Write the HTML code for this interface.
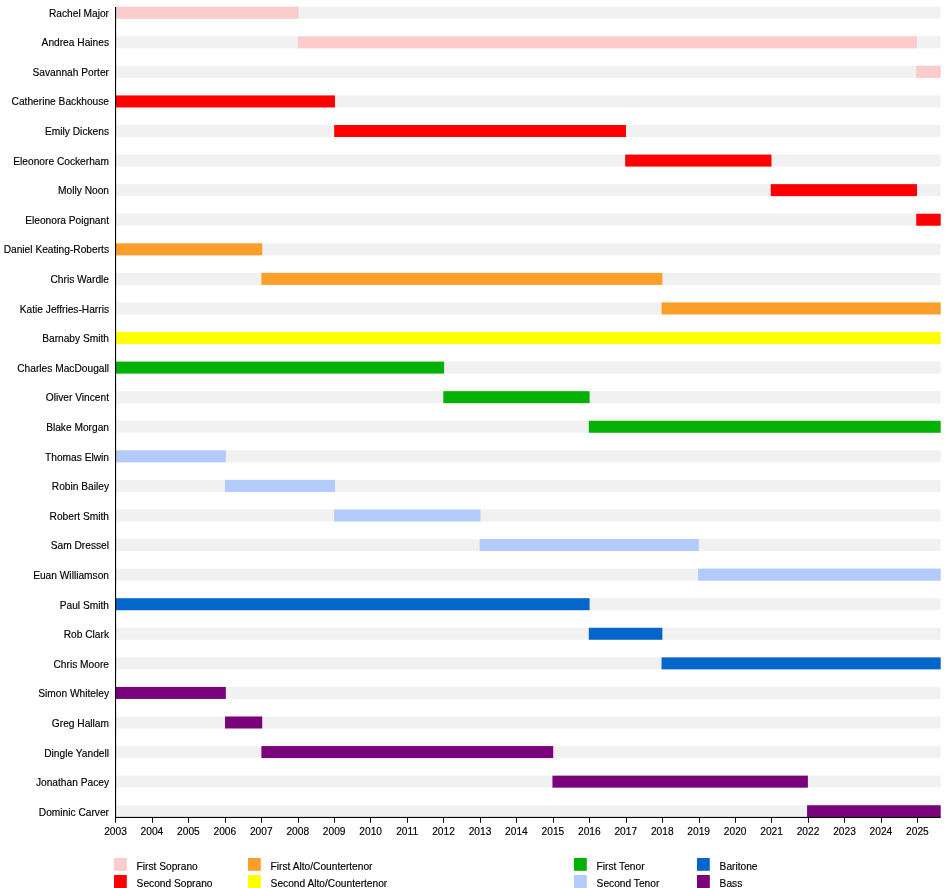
<!DOCTYPE html>
<html><head><meta charset="utf-8"><title>Timeline</title>
<style>
html,body{margin:0;padding:0;background:#fff;}
svg{display:block}
text{font-family:"Liberation Sans",Arial,Helvetica,sans-serif;font-size:10.2px;fill:#000;stroke:#000;stroke-width:0.15px}
</style></head><body>
<svg width="950" height="888" viewBox="0 0 950 888">
<rect width="950" height="888" fill="#fff"/>

<rect x="115.50" y="6.70" width="825.20" height="12.0" fill="#f1f1f1"/>
<rect x="116.00" y="6.70" width="182.59" height="12.0" fill="#fccbcb"/>
<text x="109" y="16.50" text-anchor="end">Rachel Major</text>
<rect x="115.50" y="36.27" width="825.20" height="12.0" fill="#f1f1f1"/>
<rect x="297.79" y="36.27" width="619.23" height="12.0" fill="#fccbcb"/>
<text x="109" y="46.10" text-anchor="end">Andrea Haines</text>
<rect x="115.50" y="65.85" width="825.20" height="12.0" fill="#f1f1f1"/>
<rect x="916.22" y="65.85" width="24.48" height="12.0" fill="#fccbcb"/>
<text x="109" y="75.70" text-anchor="end">Savannah Porter</text>
<rect x="115.50" y="95.42" width="825.20" height="12.0" fill="#f1f1f1"/>
<rect x="116.00" y="95.42" width="218.97" height="12.0" fill="#fe0000"/>
<text x="109" y="105.30" text-anchor="end">Catherine Backhouse</text>
<rect x="115.50" y="125.00" width="825.20" height="12.0" fill="#f1f1f1"/>
<rect x="334.17" y="125.00" width="291.82" height="12.0" fill="#fe0000"/>
<text x="109" y="134.90" text-anchor="end">Emily Dickens</text>
<rect x="115.50" y="154.57" width="825.20" height="12.0" fill="#f1f1f1"/>
<rect x="625.19" y="154.57" width="146.31" height="12.0" fill="#fe0000"/>
<text x="109" y="164.50" text-anchor="end">Eleonore Cockerham</text>
<rect x="115.50" y="184.15" width="825.20" height="12.0" fill="#f1f1f1"/>
<rect x="770.70" y="184.15" width="146.31" height="12.0" fill="#fe0000"/>
<text x="109" y="194.10" text-anchor="end">Molly Noon</text>
<rect x="115.50" y="213.72" width="825.20" height="12.0" fill="#f1f1f1"/>
<rect x="916.22" y="213.72" width="24.48" height="12.0" fill="#fe0000"/>
<text x="109" y="223.70" text-anchor="end">Eleonora Poignant</text>
<rect x="115.50" y="243.30" width="825.20" height="12.0" fill="#f1f1f1"/>
<rect x="116.00" y="243.30" width="146.21" height="12.0" fill="#fc9f28"/>
<text x="109" y="253.30" text-anchor="end">Daniel Keating-Roberts</text>
<rect x="115.50" y="272.88" width="825.20" height="12.0" fill="#f1f1f1"/>
<rect x="261.41" y="272.88" width="400.96" height="12.0" fill="#fc9f28"/>
<text x="109" y="282.90" text-anchor="end">Chris Wardle</text>
<rect x="115.50" y="302.45" width="825.20" height="12.0" fill="#f1f1f1"/>
<rect x="661.57" y="302.45" width="279.13" height="12.0" fill="#fc9f28"/>
<text x="109" y="312.50" text-anchor="end">Katie Jeffries-Harris</text>
<rect x="115.50" y="332.02" width="825.20" height="12.0" fill="#f1f1f1"/>
<rect x="116.00" y="332.02" width="824.70" height="12.0" fill="#ffff00"/>
<text x="109" y="342.10" text-anchor="end">Barnaby Smith</text>
<rect x="115.50" y="361.60" width="825.20" height="12.0" fill="#f1f1f1"/>
<rect x="116.00" y="361.60" width="328.10" height="12.0" fill="#05b105"/>
<text x="109" y="371.70" text-anchor="end">Charles MacDougall</text>
<rect x="115.50" y="391.17" width="825.20" height="12.0" fill="#f1f1f1"/>
<rect x="443.30" y="391.17" width="146.31" height="12.0" fill="#05b105"/>
<text x="109" y="401.30" text-anchor="end">Oliver Vincent</text>
<rect x="115.50" y="420.75" width="825.20" height="12.0" fill="#f1f1f1"/>
<rect x="588.81" y="420.75" width="351.89" height="12.0" fill="#05b105"/>
<text x="109" y="430.90" text-anchor="end">Blake Morgan</text>
<rect x="115.50" y="450.32" width="825.20" height="12.0" fill="#f1f1f1"/>
<rect x="116.00" y="450.32" width="109.83" height="12.0" fill="#b2cbfb"/>
<text x="109" y="460.50" text-anchor="end">Thomas Elwin</text>
<rect x="115.50" y="479.90" width="825.20" height="12.0" fill="#f1f1f1"/>
<rect x="225.03" y="479.90" width="109.93" height="12.0" fill="#b2cbfb"/>
<text x="109" y="490.10" text-anchor="end">Robin Bailey</text>
<rect x="115.50" y="509.48" width="825.20" height="12.0" fill="#f1f1f1"/>
<rect x="334.17" y="509.48" width="146.31" height="12.0" fill="#b2cbfb"/>
<text x="109" y="519.70" text-anchor="end">Robert Smith</text>
<rect x="115.50" y="539.05" width="825.20" height="12.0" fill="#f1f1f1"/>
<rect x="479.68" y="539.05" width="219.07" height="12.0" fill="#b2cbfb"/>
<text x="109" y="549.30" text-anchor="end">Sam Dressel</text>
<rect x="115.50" y="568.62" width="825.20" height="12.0" fill="#f1f1f1"/>
<rect x="697.95" y="568.62" width="242.75" height="12.0" fill="#b2cbfb"/>
<text x="109" y="578.90" text-anchor="end">Euan Williamson</text>
<rect x="115.50" y="598.20" width="825.20" height="12.0" fill="#f1f1f1"/>
<rect x="116.00" y="598.20" width="473.61" height="12.0" fill="#0466cb"/>
<text x="109" y="608.50" text-anchor="end">Paul Smith</text>
<rect x="115.50" y="627.77" width="825.20" height="12.0" fill="#f1f1f1"/>
<rect x="588.81" y="627.77" width="73.56" height="12.0" fill="#0466cb"/>
<text x="109" y="638.10" text-anchor="end">Rob Clark</text>
<rect x="115.50" y="657.35" width="825.20" height="12.0" fill="#f1f1f1"/>
<rect x="661.57" y="657.35" width="279.13" height="12.0" fill="#0466cb"/>
<text x="109" y="667.70" text-anchor="end">Chris Moore</text>
<rect x="115.50" y="686.93" width="825.20" height="12.0" fill="#f1f1f1"/>
<rect x="116.00" y="686.93" width="109.83" height="12.0" fill="#7a027b"/>
<text x="109" y="697.30" text-anchor="end">Simon Whiteley</text>
<rect x="115.50" y="716.50" width="825.20" height="12.0" fill="#f1f1f1"/>
<rect x="225.03" y="716.50" width="37.18" height="12.0" fill="#7a027b"/>
<text x="109" y="726.90" text-anchor="end">Greg Hallam</text>
<rect x="115.50" y="746.08" width="825.20" height="12.0" fill="#f1f1f1"/>
<rect x="261.41" y="746.08" width="291.82" height="12.0" fill="#7a027b"/>
<text x="109" y="756.50" text-anchor="end">Dingle Yandell</text>
<rect x="115.50" y="775.65" width="825.20" height="12.0" fill="#f1f1f1"/>
<rect x="552.44" y="775.65" width="255.45" height="12.0" fill="#7a027b"/>
<text x="109" y="786.10" text-anchor="end">Jonathan Pacey</text>
<rect x="115.50" y="805.23" width="825.20" height="12.0" fill="#f1f1f1"/>
<rect x="807.08" y="805.23" width="133.62" height="12.0" fill="#7a027b"/>
<text x="109" y="815.70" text-anchor="end">Dominic Carver</text>
<rect x="115" y="7" width="1.1" height="811" fill="#000"/>
<rect x="115" y="816.9" width="825.7" height="1.1" fill="#000"/>
<rect x="115" y="817" width="1" height="5.7" fill="#000"/>
<text x="115.50" y="834.6" text-anchor="middle">2003</text>
<rect x="152" y="817" width="1" height="5.7" fill="#000"/>
<text x="151.95" y="834.6" text-anchor="middle">2004</text>
<rect x="188" y="817" width="1" height="5.7" fill="#000"/>
<text x="188.40" y="834.6" text-anchor="middle">2005</text>
<rect x="225" y="817" width="1" height="5.7" fill="#000"/>
<text x="224.85" y="834.6" text-anchor="middle">2006</text>
<rect x="261" y="817" width="1" height="5.7" fill="#000"/>
<text x="261.30" y="834.6" text-anchor="middle">2007</text>
<rect x="298" y="817" width="1" height="5.7" fill="#000"/>
<text x="297.75" y="834.6" text-anchor="middle">2008</text>
<rect x="334" y="817" width="1" height="5.7" fill="#000"/>
<text x="334.20" y="834.6" text-anchor="middle">2009</text>
<rect x="370" y="817" width="1" height="5.7" fill="#000"/>
<text x="370.65" y="834.6" text-anchor="middle">2010</text>
<rect x="407" y="817" width="1" height="5.7" fill="#000"/>
<text x="407.10" y="834.6" text-anchor="middle">2011</text>
<rect x="443" y="817" width="1" height="5.7" fill="#000"/>
<text x="443.55" y="834.6" text-anchor="middle">2012</text>
<rect x="480" y="817" width="1" height="5.7" fill="#000"/>
<text x="480.00" y="834.6" text-anchor="middle">2013</text>
<rect x="516" y="817" width="1" height="5.7" fill="#000"/>
<text x="516.45" y="834.6" text-anchor="middle">2014</text>
<rect x="553" y="817" width="1" height="5.7" fill="#000"/>
<text x="552.90" y="834.6" text-anchor="middle">2015</text>
<rect x="589" y="817" width="1" height="5.7" fill="#000"/>
<text x="589.35" y="834.6" text-anchor="middle">2016</text>
<rect x="626" y="817" width="1" height="5.7" fill="#000"/>
<text x="625.80" y="834.6" text-anchor="middle">2017</text>
<rect x="662" y="817" width="1" height="5.7" fill="#000"/>
<text x="662.25" y="834.6" text-anchor="middle">2018</text>
<rect x="699" y="817" width="1" height="5.7" fill="#000"/>
<text x="698.70" y="834.6" text-anchor="middle">2019</text>
<rect x="735" y="817" width="1" height="5.7" fill="#000"/>
<text x="735.15" y="834.6" text-anchor="middle">2020</text>
<rect x="771" y="817" width="1" height="5.7" fill="#000"/>
<text x="771.60" y="834.6" text-anchor="middle">2021</text>
<rect x="808" y="817" width="1" height="5.7" fill="#000"/>
<text x="808.05" y="834.6" text-anchor="middle">2022</text>
<rect x="844" y="817" width="1" height="5.7" fill="#000"/>
<text x="844.50" y="834.6" text-anchor="middle">2023</text>
<rect x="881" y="817" width="1" height="5.7" fill="#000"/>
<text x="880.95" y="834.6" text-anchor="middle">2024</text>
<rect x="917" y="817" width="1" height="5.7" fill="#000"/>
<text x="917.40" y="834.6" text-anchor="middle">2025</text>
<rect x="114" y="858" width="12.8" height="12.8" fill="#fccbcb"/>
<text x="136.6" y="869.8">First Soprano</text>
<rect x="114" y="875" width="12.8" height="13" fill="#fe0000"/>
<text x="136.6" y="886.6">Second Soprano</text>
<rect x="248" y="858" width="12.8" height="12.8" fill="#fc9f28"/>
<text x="270.6" y="869.8">First Alto/Countertenor</text>
<rect x="248" y="875" width="12.8" height="13" fill="#ffff00"/>
<text x="270.6" y="886.6">Second Alto/Countertenor</text>
<rect x="574" y="858" width="12.8" height="12.8" fill="#05b105"/>
<text x="596.6" y="869.8">First Tenor</text>
<rect x="574" y="875" width="12.8" height="13" fill="#b2cbfb"/>
<text x="596.6" y="886.6">Second Tenor</text>
<rect x="697" y="858" width="12.8" height="12.8" fill="#0466cb"/>
<text x="719.6" y="869.8">Baritone</text>
<rect x="697" y="875" width="12.8" height="13" fill="#7a027b"/>
<text x="719.6" y="886.6">Bass</text>
</svg></body></html>
